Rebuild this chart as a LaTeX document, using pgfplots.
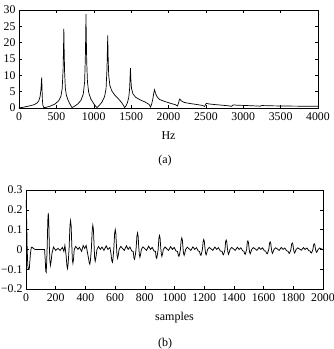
\documentclass[border=0pt]{standalone}
\usepackage{pgfplots}
\pgfplotsset{compat=1.18}
\usepackage{fontspec}
\setmainfont{Liberation Serif}
\begin{document}
\begin{tikzpicture}
\path[use as bounding box] (0pt,0pt) rectangle (333pt,349pt);
\pgfplotsset{every axis/.append style={
  scale only axis, axis line style={line width=0.5pt}, tick style={line width=0.4pt, black},
  major tick length=3pt,
  tick label style={font=\fontsize{11.8}{13}\selectfont},
  xticklabel style={yshift=-1pt},
  label style={font=\fontsize{12}{14}\selectfont},
  xlabel style={yshift=-4pt},
  /pgf/number format/assume math mode=true,
  /pgf/number format/1000 sep={},
}}
\begin{axis}[at={(19pt,241pt)}, anchor=south west, width=299pt, height=98pt,
  xmin=0, xmax=4000, ymin=0, ymax=30,
  xtick={0,500,...,4000}, ytick={0,5,...,30},
  xlabel={Hz}]
\addplot[black, line width=0.7pt] coordinates {
(0,0.05) (50,0.2) (100,0.45) (150,0.7) (200,1.0) (240,1.5) (265,2.2) (282,3.5) (293,5.5) (300,8) (304,9.4) (308,6) (313,2.5) (320,0.8) (330,0.2) (340,0.1)
(370,0.25) (420,0.6) (480,1.2) (530,2.2) (560,3.5) (578,6) (590,12) (596,19) (600,24.2) (604,18) (610,11) (620,6) (635,3.8) (660,2.2) (685,1.1) (702,0.35) (710,0.15)
(740,0.5) (790,1.3) (830,2.4) (860,4.3) (878,8) (888,16) (893,23) (896,28.7) (900,22) (906,14) (916,8) (932,4.8) (960,2.8) (1000,1.3) (1030,0.4) (1043,0.15)
(1070,0.7) (1110,1.8) (1145,3.5) (1165,6) (1177,12) (1183,18) (1187,22.2) (1192,16) (1200,10) (1215,7) (1240,5.3) (1280,4) (1330,2.8) (1375,1.6) (1400,0.7) (1413,0.15)
(1430,0.6) (1450,1.6) (1468,3.2) (1480,6) (1487,10) (1491,12.2) (1496,9) (1505,6) (1525,4.3) (1560,3.3) (1620,2.5) (1690,1.8) (1740,1.1) (1760,0.3)
(1775,1.2) (1792,3) (1805,4.8) (1814,5.6) (1825,4.6) (1845,3.5) (1880,2.6) (1950,2.0) (2030,1.4) (2095,1.0) (2120,0.6)
(2135,1.6) (2145,2.5) (2152,2.75) (2170,2.2) (2210,1.7) (2280,1.4) (2370,1.1) (2450,0.8) (2483,0.5)
(2496,1.1) (2508,1.4) (2540,1.25) (2620,1.05) (2720,0.85) (2810,0.65) (2845,0.5)
(2858,0.85) (2868,0.95) (2920,0.85) (3050,0.75) (3180,0.62) (3225,0.55) (3240,0.72) (3260,0.75) (3350,0.68) (3500,0.62) (3700,0.57) (3850,0.55) (4000,0.52)
};
\end{axis}
\node[font=\fontsize{12}{14}\selectfont] at (165pt,188pt) {(a)};
\begin{axis}[at={(26pt,60pt)}, anchor=south west, width=297pt, height=99pt,
  xmin=0, xmax=2000, ymin=-0.2, ymax=0.3,
  xtick={0,200,...,2000}, ytick={-0.2,-0.1,0,0.1,0.2,0.3},
  yticklabels={−0.2,−0.1,0,0.1,0.2,0.3},
  xlabel={samples}]
\addplot[black, line width=0.75pt] coordinates {
(0,0.25) (3,0.2) (8,0.0) (12,-0.08) (16,-0.1) (22,-0.1) (30,-0.02) (36,0.01) (40,0.012) (50,0.005) (60,0.0) (125,0.0)
(130,-0.06) (133,-0.11) (136,-0.115) (139,-0.07) (143,0.02) (147,0.15) (150,0.183) (153,0.15) (157,0.02) (161,-0.06) (165,-0.08) (169,-0.06) (175,-0.02) (185,0.012) (200,-0.005) (215,0.005) (230,-0.005) (245,0.01) (255,-0.01) (262,0.02) (270,-0.03)
(276,-0.085) (280,-0.097) (284,-0.07) (290,0.0) (296,0.12) (300,0.145) (304,0.12) (308,0.03) (312,-0.05) (316,-0.07) (320,-0.05) (325,0.0) (335,0.015) (350,0.0) (360,0.01) (375,-0.01) (385,0.02) (395,0.005) (405,0.02) (415,-0.02)
(426,-0.068) (430,-0.075) (434,-0.055) (440,0.0) (446,0.1) (450,0.122) (454,0.1) (458,0.03) (462,-0.04) (466,-0.06) (470,-0.045) (478,0.0) (488,0.015) (500,0.0) (512,0.012) (525,-0.005) (540,0.018) (552,0.0) (565,0.01) (572,-0.02)
(578,-0.058) (582,-0.065) (586,-0.045) (591,0.0) (597,0.082) (601,0.1) (605,0.082) (609,0.02) (613,-0.03) (617,-0.045) (621,-0.03) (627,0.0) (638,0.015) (650,0.005) (662,-0.005) (676,0.018) (688,0.0) (700,0.012) (712,-0.008) (722,-0.01)
(727,-0.045) (731,-0.05) (735,-0.035) (741,0.0) (747,0.068) (751,0.083) (755,0.068) (759,0.015) (763,-0.025) (767,-0.04) (771,-0.028) (777,0.0) (788,0.013) (800,0.004) (812,-0.005) (826,0.016) (838,0.0) (850,0.01) (862,-0.008) (872,-0.01)
(876,-0.04) (880,-0.045) (884,-0.03) (890,0.0) (895,0.057) (899,0.07) (903,0.057) (907,0.012) (911,-0.022) (915,-0.035) (919,-0.024) (925,0.0) (936,0.012) (948,0.003) (960,-0.005) (974,0.014) (986,0.0) (998,0.01) (1010,-0.008) (1020,-0.01)
(1026,-0.031) (1030,-0.035) (1034,-0.024) (1040,0.0) (1045,0.047) (1049,0.058) (1053,0.047) (1057,0.01) (1061,-0.02) (1065,-0.03) (1069,-0.02) (1075,0.0) (1086,0.011) (1098,0.003) (1110,-0.005) (1124,0.013) (1136,0.0) (1148,0.009) (1160,-0.008) (1168,-0.01)
(1174,-0.027) (1178,-0.03) (1182,-0.02) (1188,0.0) (1193,0.04) (1197,0.05) (1201,0.04) (1205,0.008) (1209,-0.018) (1213,-0.027) (1217,-0.018) (1223,0.0) (1234,0.01) (1246,0.003) (1258,-0.005) (1272,0.012) (1284,0.0) (1296,0.009) (1308,-0.008) (1320,-0.01)
(1326,-0.024) (1330,-0.027) (1334,-0.018) (1340,0.0) (1344,0.038) (1348,0.047) (1352,0.038) (1356,0.008) (1360,-0.016) (1364,-0.025) (1368,-0.016) (1374,0.0) (1385,0.01) (1397,0.003) (1409,-0.005) (1423,0.011) (1435,0.0) (1447,0.008) (1459,-0.007) (1467,-0.009)
(1472,-0.022) (1476,-0.025) (1480,-0.016) (1486,0.0) (1490,0.035) (1494,0.043) (1498,0.035) (1502,0.007) (1506,-0.014) (1510,-0.022) (1514,-0.014) (1520,0.0) (1531,0.009) (1543,0.003) (1555,-0.005) (1569,0.01) (1581,0.0) (1593,0.008) (1605,-0.007) (1614,-0.009)
(1621,-0.02) (1625,-0.022) (1629,-0.014) (1635,0.0) (1640,0.031) (1644,0.038) (1648,0.031) (1652,0.006) (1656,-0.013) (1660,-0.02) (1664,-0.013) (1670,0.0) (1681,0.008) (1693,0.002) (1705,-0.005) (1719,0.01) (1731,0.0) (1743,0.007) (1755,-0.007) (1764,-0.009)
(1770,-0.018) (1774,-0.02) (1778,-0.013) (1784,0.0) (1789,0.027) (1793,0.033) (1797,0.027) (1801,0.005) (1805,-0.012) (1809,-0.018) (1813,-0.012) (1819,0.0) (1830,0.008) (1842,0.002) (1854,-0.004) (1868,0.009) (1880,0.0) (1892,0.007) (1904,-0.006) (1912,-0.008)
(1918,-0.016) (1922,-0.018) (1926,-0.012) (1932,0.0) (1937,0.023) (1941,0.028) (1945,0.023) (1949,0.004) (1953,-0.01) (1957,-0.015) (1961,-0.01) (1967,0.0) (1978,0.007) (1990,0.002) (2000,-0.002)
};
\end{axis}
\node[font=\fontsize{12}{14}\selectfont] at (165pt,5.5pt) {(b)};
\end{tikzpicture}
\end{document}
